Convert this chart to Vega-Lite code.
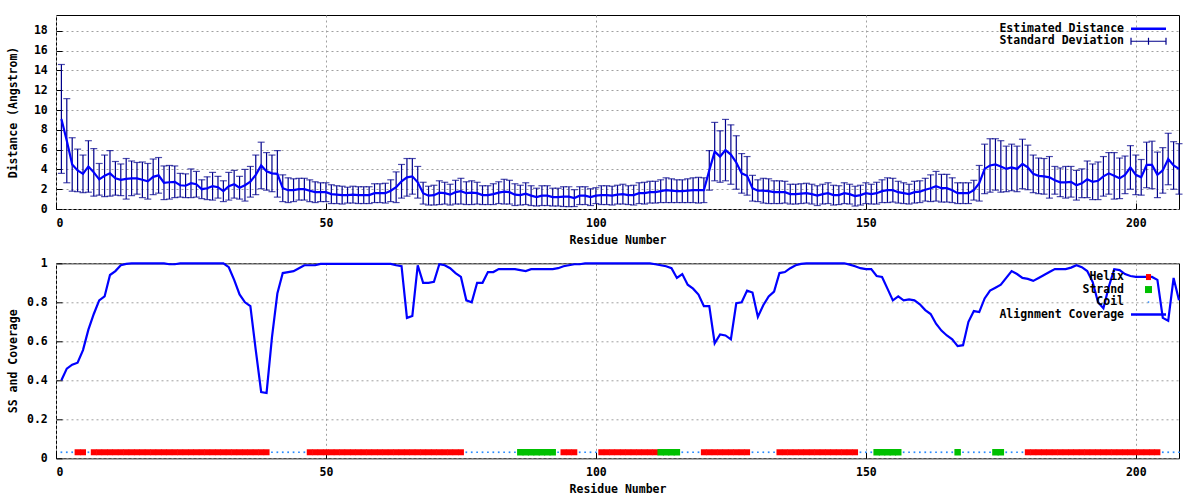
{
"$schema": "https://vega.github.io/schema/vega-lite/v6.json",
"background": "white",
"padding": {"top": 14, "left": 6, "right": 0, "bottom": 0},
"columns": 1,
"spacing": 9.3,
"resolve": {"scale": {"color": "independent", "x": "independent", "y": "independent"}, "legend": {"color": "independent"}},
"datasets": {
"dist": [
{"r":1,"d":9.1,"sd":5.5},{"r":2,"d":6.9,"sd":4.25},{"r":3,"d":4.5,"sd":2.7},{"r":4,"d":3.9,"sd":2.15},{"r":5,"d":3.55,"sd":1.9},
{"r":6,"d":4.3,"sd":2.6},{"r":7,"d":3.7,"sd":2.4},{"r":8,"d":3.0,"sd":1.6},{"r":9,"d":3.35,"sd":2.1},{"r":10,"d":3.6,"sd":2.3},
{"r":11,"d":3.1,"sd":1.7},{"r":12,"d":2.95,"sd":1.6},{"r":13,"d":3.05,"sd":2.05},{"r":14,"d":3.1,"sd":1.75},{"r":15,"d":3.1,"sd":1.6},
{"r":16,"d":2.95,"sd":1.8},{"r":17,"d":2.8,"sd":1.8},{"r":18,"d":3.25,"sd":1.8},{"r":19,"d":3.4,"sd":1.8},{"r":20,"d":2.65,"sd":1.7},
{"r":21,"d":2.7,"sd":1.7},{"r":22,"d":2.75,"sd":1.6},{"r":23,"d":2.4,"sd":1.2},{"r":24,"d":2.35,"sd":1.2},{"r":25,"d":2.6,"sd":1.45},
{"r":26,"d":2.5,"sd":1.3},{"r":27,"d":2.0,"sd":0.95},{"r":28,"d":2.1,"sd":1.15},{"r":29,"d":2.3,"sd":1.4},{"r":30,"d":2.2,"sd":1.1},
{"r":31,"d":1.8,"sd":1.05},{"r":32,"d":2.3,"sd":1.4},{"r":33,"d":2.5,"sd":1.4},{"r":34,"d":2.15,"sd":1.15},{"r":35,"d":2.4,"sd":1.6},
{"r":36,"d":2.75,"sd":1.55},{"r":37,"d":3.45,"sd":2.0},{"r":38,"d":4.4,"sd":2.35},{"r":39,"d":3.8,"sd":1.9},{"r":40,"d":3.6,"sd":1.85},
{"r":41,"d":3.55,"sd":2.35},{"r":42,"d":2.1,"sd":1.35},{"r":43,"d":1.9,"sd":1.25},{"r":44,"d":1.9,"sd":1.15},{"r":45,"d":2.0,"sd":1.1},
{"r":46,"d":2.0,"sd":1.1},{"r":47,"d":1.85,"sd":1.1},{"r":48,"d":1.7,"sd":1.05},{"r":49,"d":1.7,"sd":0.95},{"r":50,"d":1.7,"sd":0.95},
{"r":51,"d":1.5,"sd":0.95},{"r":52,"d":1.45,"sd":0.9},{"r":53,"d":1.4,"sd":0.9},{"r":54,"d":1.4,"sd":0.8},{"r":55,"d":1.45,"sd":0.85},
{"r":56,"d":1.4,"sd":0.85},{"r":57,"d":1.4,"sd":0.85},{"r":58,"d":1.4,"sd":0.85},{"r":59,"d":1.6,"sd":0.95},{"r":60,"d":1.6,"sd":0.95},
{"r":61,"d":1.6,"sd":1.0},{"r":62,"d":1.85,"sd":1.1},{"r":63,"d":2.2,"sd":1.55},{"r":64,"d":2.8,"sd":1.7},{"r":65,"d":3.2,"sd":1.9},
{"r":66,"d":3.3,"sd":1.8},{"r":67,"d":2.7,"sd":1.6},{"r":68,"d":1.6,"sd":1.1},{"r":69,"d":1.35,"sd":0.95},{"r":70,"d":1.4,"sd":1.0},
{"r":71,"d":1.65,"sd":1.2},{"r":72,"d":1.6,"sd":1.1},{"r":73,"d":1.45,"sd":1.05},{"r":74,"d":1.7,"sd":1.2},{"r":75,"d":1.8,"sd":1.3},
{"r":76,"d":1.6,"sd":1.15},{"r":77,"d":1.65,"sd":1.2},{"r":78,"d":1.6,"sd":1.1},{"r":79,"d":1.4,"sd":0.95},{"r":80,"d":1.4,"sd":0.95},
{"r":81,"d":1.5,"sd":1.05},{"r":82,"d":1.65,"sd":1.1},{"r":83,"d":1.75,"sd":1.25},{"r":84,"d":1.7,"sd":1.2},{"r":85,"d":1.45,"sd":1.1},
{"r":86,"d":1.4,"sd":1.0},{"r":87,"d":1.55,"sd":1.1},{"r":88,"d":1.35,"sd":1.0},{"r":89,"d":1.2,"sd":0.9},{"r":90,"d":1.35,"sd":1.0},
{"r":91,"d":1.35,"sd":1.0},{"r":92,"d":1.2,"sd":0.9},{"r":93,"d":1.2,"sd":0.9},{"r":94,"d":1.25,"sd":1.0},{"r":95,"d":1.25,"sd":1.0},
{"r":96,"d":1.1,"sd":0.85},{"r":97,"d":1.35,"sd":0.9},{"r":98,"d":1.35,"sd":0.9},{"r":99,"d":1.2,"sd":0.85},{"r":100,"d":1.35,"sd":0.8},
{"r":101,"d":1.4,"sd":0.95},{"r":102,"d":1.4,"sd":0.95},{"r":103,"d":1.35,"sd":0.95},{"r":104,"d":1.45,"sd":0.95},{"r":105,"d":1.5,"sd":1.0},
{"r":106,"d":1.4,"sd":0.95},{"r":107,"d":1.4,"sd":1.0},{"r":108,"d":1.6,"sd":1.05},{"r":109,"d":1.6,"sd":1.1},{"r":110,"d":1.7,"sd":1.1},
{"r":111,"d":1.7,"sd":1.1},{"r":112,"d":1.8,"sd":1.15},{"r":113,"d":1.9,"sd":1.25},{"r":114,"d":1.85,"sd":1.2},{"r":115,"d":1.8,"sd":1.15},
{"r":116,"d":1.8,"sd":1.15},{"r":117,"d":1.85,"sd":1.2},{"r":118,"d":1.9,"sd":1.25},{"r":119,"d":1.9,"sd":1.3},{"r":120,"d":1.9,"sd":1.25},
{"r":121,"d":3.9,"sd":2.0},{"r":122,"d":5.8,"sd":2.95},{"r":123,"d":5.3,"sd":2.6},{"r":124,"d":5.95,"sd":3.1},{"r":125,"d":5.5,"sd":3.0},
{"r":126,"d":4.7,"sd":2.7},{"r":127,"d":3.6,"sd":2.0},{"r":128,"d":3.35,"sd":1.95},{"r":129,"d":2.1,"sd":1.3},{"r":130,"d":1.85,"sd":1.1},
{"r":131,"d":1.85,"sd":1.25},{"r":132,"d":1.8,"sd":1.25},{"r":133,"d":1.7,"sd":1.15},{"r":134,"d":1.7,"sd":1.15},{"r":135,"d":1.7,"sd":1.1},
{"r":136,"d":1.5,"sd":1.0},{"r":137,"d":1.5,"sd":1.0},{"r":138,"d":1.55,"sd":1.0},{"r":139,"d":1.6,"sd":1.0},{"r":140,"d":1.5,"sd":1.0},
{"r":141,"d":1.35,"sd":1.0},{"r":142,"d":1.5,"sd":1.0},{"r":143,"d":1.6,"sd":1.05},{"r":144,"d":1.4,"sd":1.0},{"r":145,"d":1.4,"sd":0.95},
{"r":146,"d":1.6,"sd":1.05},{"r":147,"d":1.5,"sd":1.0},{"r":148,"d":1.3,"sd":1.0},{"r":149,"d":1.4,"sd":1.0},{"r":150,"d":1.6,"sd":1.05},
{"r":151,"d":1.5,"sd":1.0},{"r":152,"d":1.6,"sd":1.1},{"r":153,"d":1.8,"sd":1.15},{"r":154,"d":1.9,"sd":1.25},{"r":155,"d":1.9,"sd":1.2},
{"r":156,"d":1.7,"sd":1.1},{"r":157,"d":1.6,"sd":1.05},{"r":158,"d":1.5,"sd":1.0},{"r":159,"d":1.7,"sd":1.1},{"r":160,"d":1.75,"sd":1.1},
{"r":161,"d":1.95,"sd":1.15},{"r":162,"d":2.1,"sd":1.35},{"r":163,"d":2.3,"sd":1.5},{"r":164,"d":2.1,"sd":1.4},{"r":165,"d":2.1,"sd":1.4},
{"r":166,"d":1.9,"sd":1.25},{"r":167,"d":1.6,"sd":1.05},{"r":168,"d":1.6,"sd":1.05},{"r":169,"d":1.6,"sd":1.05},{"r":170,"d":1.9,"sd":1.0},
{"r":171,"d":2.6,"sd":1.8},{"r":172,"d":4.05,"sd":2.5},{"r":173,"d":4.4,"sd":2.7},{"r":174,"d":4.5,"sd":2.6},{"r":175,"d":4.3,"sd":2.6},
{"r":176,"d":4.05,"sd":2.3},{"r":177,"d":4.2,"sd":2.35},{"r":178,"d":4.05,"sd":2.3},{"r":179,"d":4.55,"sd":2.5},{"r":180,"d":4.2,"sd":2.25},
{"r":181,"d":3.55,"sd":1.9},{"r":182,"d":3.35,"sd":1.8},{"r":183,"d":3.3,"sd":1.8},{"r":184,"d":3.2,"sd":2.1},{"r":185,"d":2.9,"sd":1.4},
{"r":186,"d":2.7,"sd":1.45},{"r":187,"d":2.7,"sd":1.6},{"r":188,"d":2.75,"sd":1.55},{"r":189,"d":2.4,"sd":1.5},{"r":190,"d":2.6,"sd":1.45},
{"r":191,"d":3.0,"sd":1.85},{"r":192,"d":2.75,"sd":1.8},{"r":193,"d":2.85,"sd":1.9},{"r":194,"d":3.3,"sd":2.0},{"r":195,"d":3.6,"sd":2.1},
{"r":196,"d":3.35,"sd":2.35},{"r":197,"d":3.1,"sd":2.05},{"r":198,"d":3.45,"sd":1.9},{"r":199,"d":4.2,"sd":2.2},{"r":200,"d":3.45,"sd":2.0},
{"r":201,"d":3.2,"sd":1.8},{"r":202,"d":4.45,"sd":2.3},{"r":203,"d":4.45,"sd":2.4},{"r":204,"d":3.45,"sd":2.3},{"r":205,"d":3.9,"sd":2.3},
{"r":206,"d":5.05,"sd":2.6},{"r":207,"d":4.4,"sd":2.4},{"r":208,"d":4.05,"sd":2.55}
],
"cov": [
{"r":1,"c":0.40},{"r":2,"c":0.46},{"r":3,"c":0.48},{"r":4,"c":0.49},{"r":5,"c":0.555},{"r":6,"c":0.66},{"r":7,"c":0.74},{"r":8,"c":0.81},
{"r":9,"c":0.83},{"r":10,"c":0.94},{"r":11,"c":0.96},{"r":12,"c":0.99},{"r":13,"c":0.997},{"r":14,"c":1},{"r":15,"c":1},{"r":16,"c":1},
{"r":17,"c":1},{"r":18,"c":1},{"r":19,"c":1},{"r":20,"c":1},{"r":21,"c":0.995},{"r":22,"c":0.995},{"r":23,"c":1},{"r":24,"c":1},
{"r":25,"c":1},{"r":26,"c":1},{"r":27,"c":1},{"r":28,"c":1},{"r":29,"c":1},{"r":30,"c":1},{"r":31,"c":1},{"r":32,"c":0.98},
{"r":33,"c":0.915},{"r":34,"c":0.84},{"r":35,"c":0.80},{"r":36,"c":0.78},{"r":37,"c":0.555},{"r":38,"c":0.34},{"r":39,"c":0.335},{"r":40,"c":0.62},
{"r":41,"c":0.845},{"r":42,"c":0.95},{"r":43,"c":0.955},{"r":44,"c":0.96},{"r":45,"c":0.975},{"r":46,"c":0.99},{"r":47,"c":0.99},{"r":48,"c":0.99},
{"r":49,"c":0.997},{"r":50,"c":0.997},{"r":51,"c":0.997},{"r":52,"c":0.997},{"r":53,"c":0.997},{"r":54,"c":0.997},{"r":55,"c":0.997},{"r":56,"c":0.997},
{"r":57,"c":0.997},{"r":58,"c":0.997},{"r":59,"c":0.997},{"r":60,"c":0.997},{"r":61,"c":0.997},{"r":62,"c":0.997},{"r":63,"c":0.99},{"r":64,"c":0.985},
{"r":65,"c":0.72},{"r":66,"c":0.73},{"r":67,"c":0.99},{"r":68,"c":0.90},{"r":69,"c":0.90},{"r":70,"c":0.905},{"r":71,"c":0.995},{"r":72,"c":0.99},
{"r":73,"c":0.975},{"r":74,"c":0.95},{"r":75,"c":0.93},{"r":76,"c":0.81},{"r":77,"c":0.80},{"r":78,"c":0.90},{"r":79,"c":0.90},{"r":80,"c":0.955},
{"r":81,"c":0.955},{"r":82,"c":0.97},{"r":83,"c":0.97},{"r":84,"c":0.97},{"r":85,"c":0.97},{"r":86,"c":0.965},{"r":87,"c":0.96},{"r":88,"c":0.97},
{"r":89,"c":0.97},{"r":90,"c":0.97},{"r":91,"c":0.97},{"r":92,"c":0.97},{"r":93,"c":0.975},{"r":94,"c":0.985},{"r":95,"c":0.99},{"r":96,"c":0.995},
{"r":97,"c":0.995},{"r":98,"c":1},{"r":99,"c":1},{"r":100,"c":1},{"r":101,"c":1},{"r":102,"c":1},{"r":103,"c":1},{"r":104,"c":1},
{"r":105,"c":1},{"r":106,"c":1},{"r":107,"c":1},{"r":108,"c":1},{"r":109,"c":1},{"r":110,"c":1},{"r":111,"c":0.995},{"r":112,"c":0.99},
{"r":113,"c":0.985},{"r":114,"c":0.975},{"r":115,"c":0.925},{"r":116,"c":0.945},{"r":117,"c":0.89},{"r":118,"c":0.87},{"r":119,"c":0.84},{"r":120,"c":0.78},
{"r":121,"c":0.78},{"r":122,"c":0.59},{"r":123,"c":0.635},{"r":124,"c":0.63},{"r":125,"c":0.61},{"r":126,"c":0.795},{"r":127,"c":0.80},{"r":128,"c":0.86},
{"r":129,"c":0.85},{"r":130,"c":0.725},{"r":131,"c":0.785},{"r":132,"c":0.83},{"r":133,"c":0.855},{"r":134,"c":0.95},{"r":135,"c":0.955},{"r":136,"c":0.975},
{"r":137,"c":0.99},{"r":138,"c":0.997},{"r":139,"c":1},{"r":140,"c":1},{"r":141,"c":1},{"r":142,"c":1},{"r":143,"c":1},{"r":144,"c":1},
{"r":145,"c":1},{"r":146,"c":1},{"r":147,"c":0.993},{"r":148,"c":0.985},{"r":149,"c":0.975},{"r":150,"c":0.97},{"r":151,"c":0.97},{"r":152,"c":0.935},
{"r":153,"c":0.93},{"r":154,"c":0.87},{"r":155,"c":0.81},{"r":156,"c":0.83},{"r":157,"c":0.81},{"r":158,"c":0.815},{"r":159,"c":0.81},{"r":160,"c":0.79},
{"r":161,"c":0.76},{"r":162,"c":0.74},{"r":163,"c":0.69},{"r":164,"c":0.655},{"r":165,"c":0.63},{"r":166,"c":0.61},{"r":167,"c":0.575},{"r":168,"c":0.58},
{"r":169,"c":0.70},{"r":170,"c":0.755},{"r":171,"c":0.75},{"r":172,"c":0.82},{"r":173,"c":0.86},{"r":174,"c":0.875},{"r":175,"c":0.89},{"r":176,"c":0.925},
{"r":177,"c":0.96},{"r":178,"c":0.945},{"r":179,"c":0.925},{"r":180,"c":0.92},{"r":181,"c":0.91},{"r":182,"c":0.925},{"r":183,"c":0.94},{"r":184,"c":0.955},
{"r":185,"c":0.97},{"r":186,"c":0.97},{"r":187,"c":0.97},{"r":188,"c":0.978},{"r":189,"c":0.99},{"r":190,"c":0.98},{"r":191,"c":0.96},{"r":192,"c":0.905},
{"r":193,"c":0.80},{"r":194,"c":0.77},{"r":195,"c":0.88},{"r":196,"c":0.97},{"r":197,"c":0.965},{"r":198,"c":0.945},{"r":199,"c":0.935},{"r":200,"c":0.93},
{"r":201,"c":0.93},{"r":202,"c":0.93},{"r":203,"c":0.93},{"r":204,"c":0.915},{"r":205,"c":0.72},{"r":206,"c":0.705},{"r":207,"c":0.925},{"r":208,"c":0.81}
],
"ss": [
{"r":1,"ss":"Coil"},{"r":2,"ss":"Coil"},{"r":3,"ss":"Coil"},{"r":4,"ss":"Helix"},{"r":5,"ss":"Helix"},{"r":6,"ss":"Coil"},
{"r":7,"ss":"Helix"},{"r":8,"ss":"Helix"},{"r":9,"ss":"Helix"},{"r":10,"ss":"Helix"},{"r":11,"ss":"Helix"},{"r":12,"ss":"Helix"},{"r":13,"ss":"Helix"},{"r":14,"ss":"Helix"},
{"r":15,"ss":"Helix"},{"r":16,"ss":"Helix"},{"r":17,"ss":"Helix"},{"r":18,"ss":"Helix"},{"r":19,"ss":"Helix"},{"r":20,"ss":"Helix"},{"r":21,"ss":"Helix"},{"r":22,"ss":"Helix"},
{"r":23,"ss":"Helix"},{"r":24,"ss":"Helix"},{"r":25,"ss":"Helix"},{"r":26,"ss":"Helix"},{"r":27,"ss":"Helix"},{"r":28,"ss":"Helix"},{"r":29,"ss":"Helix"},{"r":30,"ss":"Helix"},
{"r":31,"ss":"Helix"},{"r":32,"ss":"Helix"},{"r":33,"ss":"Helix"},{"r":34,"ss":"Helix"},{"r":35,"ss":"Helix"},{"r":36,"ss":"Helix"},{"r":37,"ss":"Helix"},{"r":38,"ss":"Helix"},
{"r":39,"ss":"Helix"},{"r":40,"ss":"Coil"},{"r":41,"ss":"Coil"},{"r":42,"ss":"Coil"},{"r":43,"ss":"Coil"},{"r":44,"ss":"Coil"},{"r":45,"ss":"Coil"},{"r":46,"ss":"Coil"},
{"r":47,"ss":"Helix"},{"r":48,"ss":"Helix"},{"r":49,"ss":"Helix"},{"r":50,"ss":"Helix"},{"r":51,"ss":"Helix"},{"r":52,"ss":"Helix"},{"r":53,"ss":"Helix"},{"r":54,"ss":"Helix"},
{"r":55,"ss":"Helix"},{"r":56,"ss":"Helix"},{"r":57,"ss":"Helix"},{"r":58,"ss":"Helix"},{"r":59,"ss":"Helix"},{"r":60,"ss":"Helix"},{"r":61,"ss":"Helix"},{"r":62,"ss":"Helix"},
{"r":63,"ss":"Helix"},{"r":64,"ss":"Helix"},{"r":65,"ss":"Helix"},{"r":66,"ss":"Helix"},{"r":67,"ss":"Helix"},{"r":68,"ss":"Helix"},{"r":69,"ss":"Helix"},{"r":70,"ss":"Helix"},
{"r":71,"ss":"Helix"},{"r":72,"ss":"Helix"},{"r":73,"ss":"Helix"},{"r":74,"ss":"Helix"},{"r":75,"ss":"Helix"},{"r":76,"ss":"Coil"},{"r":77,"ss":"Coil"},{"r":78,"ss":"Coil"},
{"r":79,"ss":"Coil"},{"r":80,"ss":"Coil"},{"r":81,"ss":"Coil"},{"r":82,"ss":"Coil"},{"r":83,"ss":"Coil"},{"r":84,"ss":"Coil"},{"r":85,"ss":"Coil"},
{"r":86,"ss":"Strand"},{"r":87,"ss":"Strand"},{"r":88,"ss":"Strand"},{"r":89,"ss":"Strand"},{"r":90,"ss":"Strand"},{"r":91,"ss":"Strand"},{"r":92,"ss":"Strand"},
{"r":93,"ss":"Coil"},{"r":94,"ss":"Helix"},{"r":95,"ss":"Helix"},{"r":96,"ss":"Helix"},{"r":97,"ss":"Coil"},{"r":98,"ss":"Coil"},{"r":99,"ss":"Coil"},{"r":100,"ss":"Coil"},
{"r":101,"ss":"Helix"},{"r":102,"ss":"Helix"},{"r":103,"ss":"Helix"},{"r":104,"ss":"Helix"},{"r":105,"ss":"Helix"},{"r":106,"ss":"Helix"},{"r":107,"ss":"Helix"},{"r":108,"ss":"Helix"},
{"r":109,"ss":"Helix"},{"r":110,"ss":"Helix"},{"r":111,"ss":"Helix"},{"r":112,"ss":"Strand"},{"r":113,"ss":"Strand"},{"r":114,"ss":"Strand"},{"r":115,"ss":"Strand"},
{"r":116,"ss":"Coil"},{"r":117,"ss":"Coil"},{"r":118,"ss":"Coil"},{"r":119,"ss":"Coil"},
{"r":120,"ss":"Helix"},{"r":121,"ss":"Helix"},{"r":122,"ss":"Helix"},{"r":123,"ss":"Helix"},{"r":124,"ss":"Helix"},{"r":125,"ss":"Helix"},{"r":126,"ss":"Helix"},{"r":127,"ss":"Helix"},{"r":128,"ss":"Helix"},
{"r":129,"ss":"Coil"},{"r":130,"ss":"Coil"},{"r":131,"ss":"Coil"},{"r":132,"ss":"Coil"},{"r":133,"ss":"Coil"},
{"r":134,"ss":"Helix"},{"r":135,"ss":"Helix"},{"r":136,"ss":"Helix"},{"r":137,"ss":"Helix"},{"r":138,"ss":"Helix"},{"r":139,"ss":"Helix"},{"r":140,"ss":"Helix"},{"r":141,"ss":"Helix"},
{"r":142,"ss":"Helix"},{"r":143,"ss":"Helix"},{"r":144,"ss":"Helix"},{"r":145,"ss":"Helix"},{"r":146,"ss":"Helix"},{"r":147,"ss":"Helix"},{"r":148,"ss":"Helix"},
{"r":149,"ss":"Coil"},{"r":150,"ss":"Coil"},{"r":151,"ss":"Coil"},
{"r":152,"ss":"Strand"},{"r":153,"ss":"Strand"},{"r":154,"ss":"Strand"},{"r":155,"ss":"Strand"},{"r":156,"ss":"Strand"},
{"r":157,"ss":"Coil"},{"r":158,"ss":"Coil"},{"r":159,"ss":"Coil"},{"r":160,"ss":"Coil"},{"r":161,"ss":"Coil"},{"r":162,"ss":"Coil"},{"r":163,"ss":"Coil"},{"r":164,"ss":"Coil"},
{"r":165,"ss":"Coil"},{"r":166,"ss":"Coil"},{"r":167,"ss":"Strand"},{"r":168,"ss":"Coil"},{"r":169,"ss":"Coil"},{"r":170,"ss":"Coil"},{"r":171,"ss":"Coil"},{"r":172,"ss":"Coil"},
{"r":173,"ss":"Coil"},{"r":174,"ss":"Strand"},{"r":175,"ss":"Strand"},{"r":176,"ss":"Coil"},{"r":177,"ss":"Coil"},{"r":178,"ss":"Coil"},{"r":179,"ss":"Coil"},
{"r":180,"ss":"Helix"},{"r":181,"ss":"Helix"},{"r":182,"ss":"Helix"},{"r":183,"ss":"Helix"},{"r":184,"ss":"Helix"},{"r":185,"ss":"Helix"},{"r":186,"ss":"Helix"},{"r":187,"ss":"Helix"},
{"r":188,"ss":"Helix"},{"r":189,"ss":"Helix"},{"r":190,"ss":"Helix"},{"r":191,"ss":"Helix"},{"r":192,"ss":"Helix"},{"r":193,"ss":"Helix"},{"r":194,"ss":"Helix"},{"r":195,"ss":"Helix"},
{"r":196,"ss":"Helix"},{"r":197,"ss":"Helix"},{"r":198,"ss":"Helix"},{"r":199,"ss":"Helix"},{"r":200,"ss":"Helix"},{"r":201,"ss":"Helix"},{"r":202,"ss":"Helix"},{"r":203,"ss":"Helix"},
{"r":204,"ss":"Helix"},{"r":205,"ss":"Coil"},{"r":206,"ss":"Coil"},{"r":207,"ss":"Coil"},{"r":208,"ss":"Coil"}
]
},
"concat": [
{
"width": 1123,
"height": 194,
"data": {"name": "dist"},
"layer": [
{
"mark": {"type": "errorbar", "ticks": {"size": 7}, "thickness": 1.2},
"encoding": {
"x": {"field": "r", "type": "quantitative", "title": "Residue Number", "scale": {"domain": [0, 208], "nice": false, "zero": false}, "axis": {"values": [0, 50, 100, 150, 200]}},
"y": {"field": "d", "type": "quantitative", "title": "Distance (Angstrom)", "scale": {"domain": [0, 19.6], "nice": false}, "axis": {"values": [0, 2, 4, 6, 8, 10, 12, 14, 16, 18], "titlePadding": 15}},
"yError": {"field": "sd"},
"color": {"datum": "Standard Deviation", "scale": {"domain": ["Estimated Distance", "Standard Deviation"], "range": ["#0000ff", "#00008b"]},
"legend": {"encode": {
"symbols": {"update": {
"shape": {"signal": "datum.value === 'Standard Deviation' ? 'M-3.5,0H3.5M-3.5,-0.7V0.7M3.5,-0.7V0.7M0,-0.7V0.7' : 'M-3.5,0H3.5'"},
"stroke": {"signal": "datum.value === 'Standard Deviation' ? '#00008b' : '#0000ff'"},
"fill": {"value": "transparent"},
"strokeWidth": {"signal": "datum.value === 'Standard Deviation' ? 1.2 : 2.5"},
"opacity": {"value": 1},
"x": {"value": 17.5}
}},
"labels": {"update": {"x": {"value": -7}, "align": {"value": "right"}}}
}}}
}
},
{
"mark": {"type": "line", "strokeWidth": 2.2},
"encoding": {
"x": {"field": "r", "type": "quantitative", "title": "Residue Number", "axis": {"values": [0, 50, 100, 150, 200]}},
"y": {"field": "d", "type": "quantitative", "title": "Distance (Angstrom)", "axis": {"values": [0, 2, 4, 6, 8, 10, 12, 14, 16, 18], "titlePadding": 15}},
"color": {"datum": "Estimated Distance",
"legend": {"encode": {
"symbols": {"update": {
"shape": {"signal": "datum.value === 'Standard Deviation' ? 'M-3.5,0H3.5M-3.5,-0.7V0.7M3.5,-0.7V0.7M0,-0.7V0.7' : 'M-3.5,0H3.5'"},
"stroke": {"signal": "datum.value === 'Standard Deviation' ? '#00008b' : '#0000ff'"},
"fill": {"value": "transparent"},
"strokeWidth": {"signal": "datum.value === 'Standard Deviation' ? 1.2 : 2.5"},
"opacity": {"value": 1},
"x": {"value": 17.5}
}},
"labels": {"update": {"x": {"value": -7}, "align": {"value": "right"}}}
}}}
}
}
]
},
{
"width": 1123,
"height": 195,
"encoding": {
"x": {"field": "r", "type": "quantitative", "title": "Residue Number", "scale": {"domain": [0, 208], "nice": false, "zero": false}, "axis": {"values": [0, 50, 100, 150, 200]}},
"color": {"field": "ss", "type": "nominal", "scale": {"domain": ["Helix", "Strand", "Coil", "Alignment Coverage"], "range": ["#ff0000", "#00c000", "#2a8cff", "#0000ff"]},
"legend": {"encode": {
"symbols": {"update": {
"shape": {"signal": "datum.value === 'Helix' ? 'M-0.5,-0.6H0.5V0.6H-0.5Z' : datum.value === 'Strand' ? 'M-0.7,-0.7H0.7V0.7H-0.7Z' : datum.value === 'Coil' ? 'M-0.15,-0.15H0.15V0.15H-0.15Z' : 'M-3.5,0H3.5'"},
"stroke": {"signal": "datum.value === 'Alignment Coverage' ? '#0000ff' : 'transparent'"},
"fill": {"signal": "datum.value === 'Helix' ? '#ff0000' : datum.value === 'Strand' ? '#00c000' : datum.value === 'Coil' ? '#2a8cff' : 'transparent'"},
"strokeWidth": {"signal": "datum.value === 'Alignment Coverage' ? 2.5 : 0"},
"opacity": {"value": 1},
"x": {"value": 17.5}
}},
"labels": {"update": {"x": {"value": -7}, "align": {"value": "right"}}}
}}}
},
"layer": [
{
"data": {"name": "ss"},
"transform": [{"filter": "datum.ss === 'Helix'"}],
"mark": {"type": "point", "shape": "square", "filled": true, "opacity": 1, "strokeWidth": 0, "size": 36},
"encoding": {
"y": {"datum": 0.031, "type": "quantitative", "title": "SS and Coverage", "scale": {"domain": [0, 1], "nice": false}, "axis": {"values": [0, 0.2, 0.4, 0.6, 0.8, 1], "format": "~g", "titlePadding": 8}}
}
},
{
"data": {"name": "ss"},
"transform": [{"filter": "datum.ss === 'Strand'"}],
"mark": {"type": "point", "shape": "square", "filled": true, "opacity": 1, "strokeWidth": 0, "size": 42},
"encoding": {
"y": {"datum": 0.031, "type": "quantitative", "title": "SS and Coverage", "axis": {"values": [0, 0.2, 0.4, 0.6, 0.8, 1], "format": "~g", "titlePadding": 8}}
}
},
{
"data": {"name": "ss"},
"transform": [{"filter": "datum.ss === 'Coil'"}],
"mark": {"type": "point", "shape": "square", "filled": true, "opacity": 1, "strokeWidth": 0, "size": 3},
"encoding": {
"y": {"datum": 0.031, "type": "quantitative", "title": "SS and Coverage", "axis": {"values": [0, 0.2, 0.4, 0.6, 0.8, 1], "format": "~g", "titlePadding": 8}}
}
},
{
"data": {"name": "cov"},
"mark": {"type": "line", "strokeWidth": 2.2},
"encoding": {
"y": {"field": "c", "type": "quantitative", "title": "SS and Coverage", "axis": {"values": [0, 0.2, 0.4, 0.6, 0.8, 1], "format": "~g", "titlePadding": 8}},
"color": {"datum": "Alignment Coverage"}
}
}
]
}
],
"config": {
"view": {"stroke": "#000000", "strokeWidth": 1},
"axis": {
"labelFont": "DejaVu Sans Mono", "labelFontWeight": "bold", "labelFontSize": 11.5, "labelColor": "#000000",
"titleFont": "DejaVu Sans Mono", "titleFontWeight": "bold", "titleFontSize": 11.5, "titleColor": "#000000",
"domain": false, "tickColor": "#000000", "tickSize": -6, "tickWidth": 1, "labelOverlap": false,
"grid": true, "gridColor": "#a0a0a0", "gridDash": [2, 3], "gridWidth": 1
},
"axisX": {"labelPadding": 14, "titlePadding": 6},
"axisY": {"labelPadding": 14.7},
"legend": {
"title": null, "orient": "top-right", "offset": 8, "padding": 0,
"labelFont": "DejaVu Sans Mono", "labelFontWeight": "bold", "labelFontSize": 11.5, "labelColor": "#000000",
"symbolSize": 100, "rowPadding": -0.5, "labelLimit": 400
}
}
}
